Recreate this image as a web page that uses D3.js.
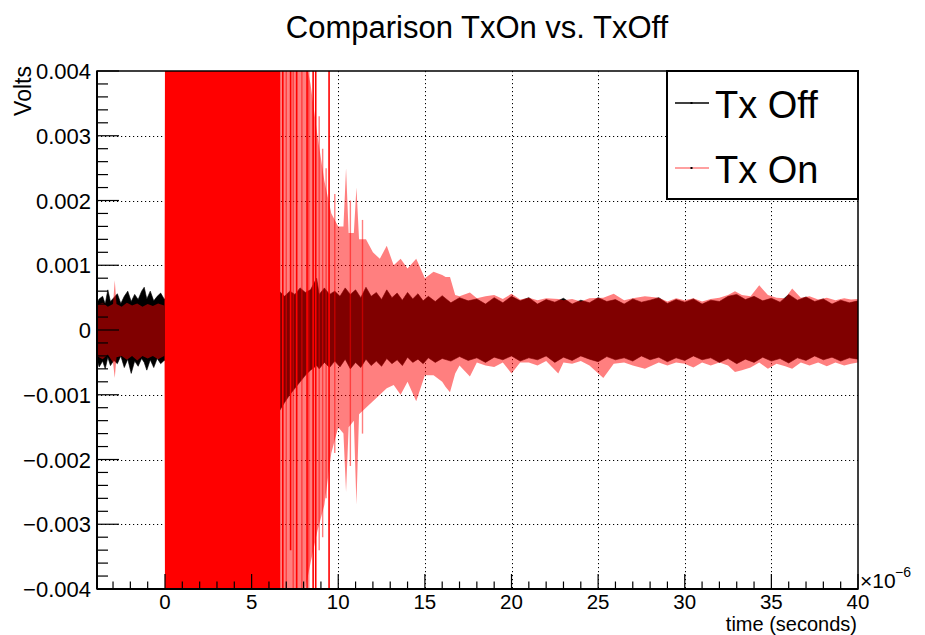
<!DOCTYPE html>
<html lang="en">
<head>
  <meta charset="UTF-8">
  <title>Comparison TxOn vs. TxOff</title>
  <script src="https://d3js.org/d3.v7.min.js"></script>
  <style>
    body { margin: 0; background: #fff; }
    svg { display: block; font-family: "Liberation Sans", Arial, Helvetica, sans-serif; }
  </style>
</head>
<body>
<svg id="chart" width="925" height="635"></svg>
<script>
  // time in microseconds (axis shows x10^-6 s), amplitudes in volts
  // each waveform is given by the top and bottom of its envelope

  // Tx Off (black)
  const offTime = [-3.93, -3.8, -3.6, -3.45, -3.3, -3.15, -2.95, -2.75, -2.55, -2.35, -2.15, -1.95, -1.75, -1.55, -1.35, -1.2, -1.05, -0.85, -0.65, -0.45, -0.25, -0.05,
    1.0, 3.0, 5.0, 6.4, 6.6, 6.9, 7.2, 7.5, 7.8, 8.1, 8.4, 8.75, 8.9, 9.2, 9.5, 9.8, 10.1, 10.4, 10.7, 11.0, 11.3, 11.6, 11.9, 12.2, 12.5, 12.8, 13.1, 13.4, 13.7,
    14.0, 14.3, 14.6, 14.9, 15.2, 15.6, 16.0, 16.5, 17.0, 17.5, 18.0, 18.5, 19.0, 19.5, 20.0, 20.5, 21.0, 21.5, 22.0, 22.5, 23.0, 23.5, 24.0, 24.5, 25.0, 25.5,
    26.0, 26.5, 27.0, 27.5, 28.0, 28.5, 29.0, 29.5, 30.0, 30.5, 31.0, 31.5, 32.0, 32.5, 33.0, 33.5, 34.0, 34.5, 35.0, 35.5, 36.0, 36.5, 37.0, 37.5, 38.0, 38.5,
    39.0, 39.5, 40.0];
  const offTop = [0.00042, 0.00048, 0.00052, 0.00040, 0.00062, 0.00044, 0.00050, 0.00056, 0.00041, 0.00052, 0.00060, 0.00044, 0.00055, 0.00047, 0.00060, 0.00066, 0.00048, 0.00060, 0.00045, 0.00052, 0.00057, 0.00048,
    0.0005, 0.0005, 0.0005, 0.0005, 0.00060, 0.00052, 0.00060, 0.00055, 0.00065, 0.00058, 0.00062, 0.00080, 0.00055, 0.00065, 0.00055, 0.00060, 0.00052, 0.00065, 0.00055, 0.00062, 0.00050, 0.00066, 0.00052, 0.00058, 0.00047, 0.00062, 0.00050, 0.00057, 0.00046,
    0.00058, 0.00048, 0.00056, 0.00045, 0.00052, 0.00044, 0.00053, 0.00042, 0.00050, 0.00045, 0.00048, 0.00040, 0.00050, 0.00042, 0.00052, 0.00045, 0.00050, 0.00040, 0.00047, 0.00043, 0.00049, 0.00040, 0.00046, 0.00042, 0.00050, 0.00044,
    0.00047, 0.00040, 0.00048, 0.00043, 0.00046, 0.00050, 0.00041, 0.00047, 0.00043, 0.00048, 0.00040, 0.00046, 0.00044, 0.00052, 0.00055, 0.00047, 0.00052, 0.00045, 0.00049, 0.00043, 0.00055, 0.00046, 0.00051, 0.00044, 0.00048, 0.00040,
    0.00046, 0.00042, 0.00045];
  const offBottom = [-0.00045, -0.00057, -0.00048, -0.00060, -0.00042, -0.00055, -0.00047, -0.00052, -0.00040, -0.00058, -0.00045, -0.00067, -0.00048, -0.00056, -0.00044, -0.00050, -0.00062, -0.00046, -0.00058, -0.00044, -0.00052, -0.00047,
    -0.0005, -0.0007, -0.0010, -0.0012, -0.00125, -0.00112, -0.00100, -0.00090, -0.00080, -0.00070, -0.00062, -0.00055, -0.00060, -0.00050, -0.00058, -0.00048, -0.00057, -0.00045, -0.00060, -0.00050, -0.00058, -0.00045, -0.00055, -0.00048, -0.00056, -0.00044, -0.00052, -0.00046, -0.00055,
    -0.00042, -0.00050, -0.00045, -0.00052, -0.00043, -0.00050, -0.00044, -0.00048, -0.00041, -0.00047, -0.00043, -0.00050, -0.00042, -0.00046, -0.00040, -0.00048, -0.00043, -0.00046, -0.00040, -0.00050, -0.00042, -0.00047, -0.00040, -0.00045, -0.00049, -0.00041,
    -0.00046, -0.00043, -0.00048, -0.00040, -0.00046, -0.00042, -0.00049, -0.00043, -0.00047, -0.00040, -0.00046, -0.00043, -0.00050, -0.00044, -0.00052, -0.00045, -0.00050, -0.00042, -0.00048, -0.00044, -0.00051, -0.00043, -0.00047, -0.00040, -0.00046, -0.00042,
    -0.00048, -0.00043, -0.00045];

  // Tx On (red, half transparent)
  const onTime = [-3.93, -3.6, -3.3, -3.0, -2.9, -2.8, -2.5, -2.2, -1.9, -1.6, -1.3, -1.0, -0.7, -0.4, -0.05, 0.0, 7.8, 8.1, 8.4, 8.8, 9.2, 9.6, 10.0, 10.3, 10.45, 10.6, 10.9,
    11.05, 11.2, 11.6, 12.0, 12.4, 12.8, 13.2, 13.6, 14.0, 14.5, 15.0, 15.5, 16.0, 16.2, 16.45, 16.75, 17.0, 17.6, 18.0, 18.5, 19.0, 19.5, 20.0, 20.5, 21.0, 21.5,
    22.0, 22.7, 23.0, 23.5, 24.0, 24.5, 25.3, 25.9, 26.5, 27.0, 27.7, 28.5, 29.0, 29.5, 30.0, 30.5, 31.0, 31.5, 32.0, 32.5, 32.9, 33.3, 33.8, 34.3, 34.8, 35.3,
    35.8, 36.2, 36.7, 37.2, 37.7, 38.2, 38.7, 39.2, 39.6, 40.0];
  const onTop = [0.00038, 0.00042, 0.00036, 0.00040, 0.00077, 0.00040, 0.00036, 0.00042, 0.00038, 0.00041, 0.00036, 0.00040, 0.00037, 0.00041, 0.00038, 0.0045, 0.0045, 0.0042, 0.0038, 0.0030, 0.0023, 0.0018, 0.0016, 0.0016, 0.0025, 0.0015, 0.0015,
    0.0022, 0.0014, 0.0014, 0.0012, 0.0011, 0.0013, 0.0010, 0.0011, 0.00095, 0.0011, 0.0008, 0.0009, 0.00085, 0.00082, 0.00082, 0.00054, 0.00052, 0.00058, 0.00049, 0.00052, 0.00054, 0.00048, 0.00056, 0.00047, 0.00050, 0.00046,
    0.00049, 0.00048, 0.00046, 0.00048, 0.00044, 0.00049, 0.00050, 0.00056, 0.00046, 0.00049, 0.00052, 0.00050, 0.00044, 0.00049, 0.00046, 0.00049, 0.00044, 0.00048, 0.00050, 0.00054, 0.00060, 0.00054, 0.00052, 0.00069, 0.00054, 0.00050,
    0.00049, 0.00064, 0.00050, 0.00052, 0.00047, 0.00050, 0.00046, 0.00049, 0.00047, 0.00048];
  const onBottom = [-0.00040, -0.00045, -0.00038, -0.00050, -0.00074, -0.00042, -0.00040, -0.00046, -0.00040, -0.00047, -0.00040, -0.00044, -0.00040, -0.00045, -0.00040, -0.0045, -0.0045, -0.0040, -0.0036, -0.0031, -0.0027, -0.0019, -0.0015, -0.0016, -0.0025, -0.0015, -0.0014,
    -0.0027, -0.0013, -0.0012, -0.0011, -0.0010, -0.0009, -0.00085, -0.0010, -0.0008, -0.0011, -0.0007, -0.0007, -0.0008, -0.00088, -0.00096, -0.00067, -0.00055, -0.00072, -0.00050, -0.00055, -0.00057, -0.00050, -0.00067, -0.00050, -0.00050, -0.00055,
    -0.00048, -0.00067, -0.00050, -0.00052, -0.00048, -0.00055, -0.00074, -0.00052, -0.00050, -0.00055, -0.00060, -0.00050, -0.00055, -0.00050, -0.00052, -0.00058, -0.00050, -0.00055, -0.00050, -0.00055, -0.00065, -0.00062, -0.00058, -0.00050, -0.00060, -0.00052,
    -0.00056, -0.00060, -0.00050, -0.00055, -0.00050, -0.00056, -0.00050, -0.00055, -0.00052, -0.00050];

  // Tx On saturated part (overlapping swings fill solid red)
  const onDenseTime = [0.0, 6.65];
  const onDenseTop = [0.0045, 0.0045];
  const onDenseBottom = [-0.0045, -0.0045];

  // single large Tx On swings after the saturated part (solid red)
  const onSpikeTime = [6.8, 7.25, 7.6, 8.2, 8.55, 8.7, 9.47];
  const onSpikeTop = [0.0045, 0.0045, 0.0045, 0.0045, 0.0045, 0.0045, 0.0045];
  const onSpikeBottom = [-0.0045, -0.0034, -0.0045, -0.0042, -0.0045, -0.0040, -0.0045];

  // fainter Tx On swings in the decaying part
  const onSwingTime = [7.0, 7.4, 7.9, 8.3, 8.9, 9.1, 9.3, 9.8, 10.7, 11.4];
  const onSwingTop = [0.0045, 0.0045, 0.0045, 0.0045, 0.0033, 0.0028, 0.0025, 0.0021, 0.0020, 0.0017];
  const onSwingBottom = [-0.0045, -0.0045, -0.0045, -0.0040, -0.0034, -0.0032, -0.0026, -0.0019, -0.0021, -0.0016];

  const xTicks = [0, 5, 10, 15, 20, 25, 30, 35, 40];
  const yTicks = [-0.004, -0.003, -0.002, -0.001, 0, 0.001, 0.002, 0.003, 0.004];
  const yTickLabels = ["\u22120.004", "\u22120.003", "\u22120.002", "\u22120.001", "0", "0.001", "0.002", "0.003", "0.004"];

  const margin = { left: 97, right: 858, top: 71, bottom: 589 };

  const svg = d3.select("#chart");

  const x = d3.scaleLinear().domain([-3.925, 40]).range([margin.left, margin.right]);
  const y = d3.scaleLinear().domain([-0.004, 0.004]).range([margin.bottom, margin.top]);

  svg.append("defs").append("clipPath").attr("id", "plot-clip")
    .append("rect")
    .attr("x", margin.left).attr("y", margin.top)
    .attr("width", margin.right - margin.left).attr("height", margin.bottom - margin.top);

  // grid (under the traces, like the original)
  const grid = svg.append("g")
    .attr("stroke", "#000")
    .attr("stroke-width", 1)
    .attr("stroke-dasharray", "1.2 2.8");
  grid.selectAll("line.gx")
    .data(xTicks.filter(d => d > 0 && d < 40))
    .join("line")
    .attr("class", "gx")
    .attr("x1", d => Math.round(x(d)) + 0.5).attr("x2", d => Math.round(x(d)) + 0.5)
    .attr("y1", margin.top).attr("y2", margin.bottom);
  grid.selectAll("line.gy")
    .data(yTicks.filter(d => d !== 0 && Math.abs(d) < 0.004))
    .join("line")
    .attr("class", "gy")
    .attr("x1", margin.left).attr("x2", margin.right)
    .attr("y1", d => Math.round(y(d)) + 0.5).attr("y2", d => Math.round(y(d)) + 0.5);

  // envelope polygon: top edge forward, bottom edge backward
  function envelope(times, top, bottom) {
    const pts = times.map((t, i) => [x(t), y(top[i])]);
    for (let i = times.length - 1; i >= 0; i--) pts.push([x(times[i]), y(bottom[i])]);
    return d3.line()(pts) + "Z";
  }

  const traces = svg.append("g").attr("clip-path", "url(#plot-clip)");

  traces.append("path")
    .attr("d", envelope(offTime, offTop, offBottom))
    .attr("fill", "#000")
    .attr("stroke", "#000")
    .attr("stroke-width", 0.6);

  traces.append("path")
    .attr("d", envelope(onTime, onTop, onBottom))
    .attr("fill", "rgb(255,0,0)")
    .attr("fill-opacity", 0.5);

  traces.selectAll("line.swing")
    .data(onSwingTime)
    .join("line")
    .attr("class", "swing")
    .attr("x1", d => x(d)).attr("x2", d => x(d))
    .attr("y1", (d, i) => y(onSwingTop[i]))
    .attr("y2", (d, i) => y(onSwingBottom[i]))
    .attr("stroke", "rgb(255,0,0)")
    .attr("stroke-opacity", 0.5)
    .attr("stroke-width", 1.4);

  traces.append("path")
    .attr("d", envelope(onDenseTime, onDenseTop, onDenseBottom))
    .attr("fill", "rgb(255,0,0)");

  traces.selectAll("line.spike")
    .data(onSpikeTime)
    .join("line")
    .attr("class", "spike")
    .attr("x1", d => x(d)).attr("x2", d => x(d))
    .attr("y1", (d, i) => y(onSpikeTop[i]))
    .attr("y2", (d, i) => y(onSpikeBottom[i]))
    .attr("stroke", "rgb(255,0,0)")
    .attr("stroke-width", 1.6);

  // frame
  svg.append("rect")
    .attr("x", margin.left).attr("y", margin.top)
    .attr("width", margin.right - margin.left).attr("height", margin.bottom - margin.top)
    .attr("fill", "none").attr("stroke", "#000").attr("stroke-width", 1.5);

  // ticks pointing into the frame: x major every 5, minor every 1; y minor every 0.0002
  const xMinor = d3.range(-3, 41, 1).filter(d => d % 5 !== 0);
  const axes = svg.append("g").attr("stroke", "#000").attr("stroke-width", 1.2);
  axes.selectAll("line.xmaj").data(xTicks).join("line").attr("class", "xmaj")
    .attr("x1", d => x(d)).attr("x2", d => x(d))
    .attr("y1", margin.bottom).attr("y2", margin.bottom - 15);
  axes.selectAll("line.xmin").data(xMinor).join("line").attr("class", "xmin")
    .attr("x1", d => x(d)).attr("x2", d => x(d))
    .attr("y1", margin.bottom).attr("y2", margin.bottom - 7.5);

  const yMinor = d3.range(-40, 41, 2).map(d => d / 10000).filter(d => Math.round(d * 10000) % 10 !== 0);
  axes.selectAll("line.ymaj").data(yTicks).join("line").attr("class", "ymaj")
    .attr("x1", margin.left).attr("x2", margin.left + 22)
    .attr("y1", d => y(d)).attr("y2", d => y(d));
  axes.selectAll("line.ymin").data(yMinor).join("line").attr("class", "ymin")
    .attr("x1", margin.left).attr("x2", margin.left + 11)
    .attr("y1", d => y(d)).attr("y2", d => y(d));

  // thicker axis lines
  svg.append("line").attr("x1", margin.left).attr("x2", margin.right)
    .attr("y1", margin.bottom).attr("y2", margin.bottom)
    .attr("stroke", "#000").attr("stroke-width", 2);
  svg.append("line").attr("x1", margin.left).attr("x2", margin.left)
    .attr("y1", margin.top).attr("y2", margin.bottom)
    .attr("stroke", "#000").attr("stroke-width", 2);

  // tick labels
  svg.append("g").selectAll("text").data(xTicks).join("text")
    .attr("x", d => x(d)).attr("y", 608.5)
    .attr("text-anchor", "middle").attr("font-size", 20.5)
    .text(d => d);
  svg.append("g").selectAll("text").data(yTicks).join("text")
    .attr("x", 91).attr("y", d => y(d) + 8)
    .attr("text-anchor", "end").attr("font-size", 22)
    .text((d, i) => yTickLabels[i]);

  svg.append("text").attr("x", 860).attr("y", 588).attr("font-size", 21).text("\u00d710");
  svg.append("text").attr("x", 895).attr("y", 577).attr("font-size", 14).text("\u22126");

  // titles
  svg.append("text").attr("x", 477).attr("y", 38)
    .attr("text-anchor", "middle").attr("font-size", 31)
    .text("Comparison TxOn vs. TxOff");
  svg.append("text").attr("x", 857).attr("y", 630.5)
    .attr("text-anchor", "end").attr("font-size", 20)
    .text("time (seconds)");
  svg.append("text")
    .attr("transform", "translate(31,66) rotate(-90)")
    .attr("text-anchor", "end").attr("font-size", 23)
    .text("Volts");

  // legend
  const legend = svg.append("g");
  legend.append("rect")
    .attr("x", 667).attr("y", 71).attr("width", 191).attr("height", 128)
    .attr("fill", "#fff").attr("stroke", "#000").attr("stroke-width", 2);
  const legendItems = [
    { label: "Tx Off", color: "#000", y: 103 },
    { label: "Tx On", color: "rgb(255,128,128)", y: 168 }
  ];
  legendItems.forEach(item => {
    legend.append("line")
      .attr("x1", 675).attr("x2", 709).attr("y1", item.y).attr("y2", item.y)
      .attr("stroke", item.color).attr("stroke-width", 1.5);
    legend.append("rect")
      .attr("x", 690.5).attr("y", item.y - 1).attr("width", 2).attr("height", 2)
      .attr("fill", "#000");
    legend.append("text")
      .attr("x", 715).attr("y", item.y + 15)
      .attr("font-size", 38)
      .text(item.label);
  });
</script>
</body>
</html>
